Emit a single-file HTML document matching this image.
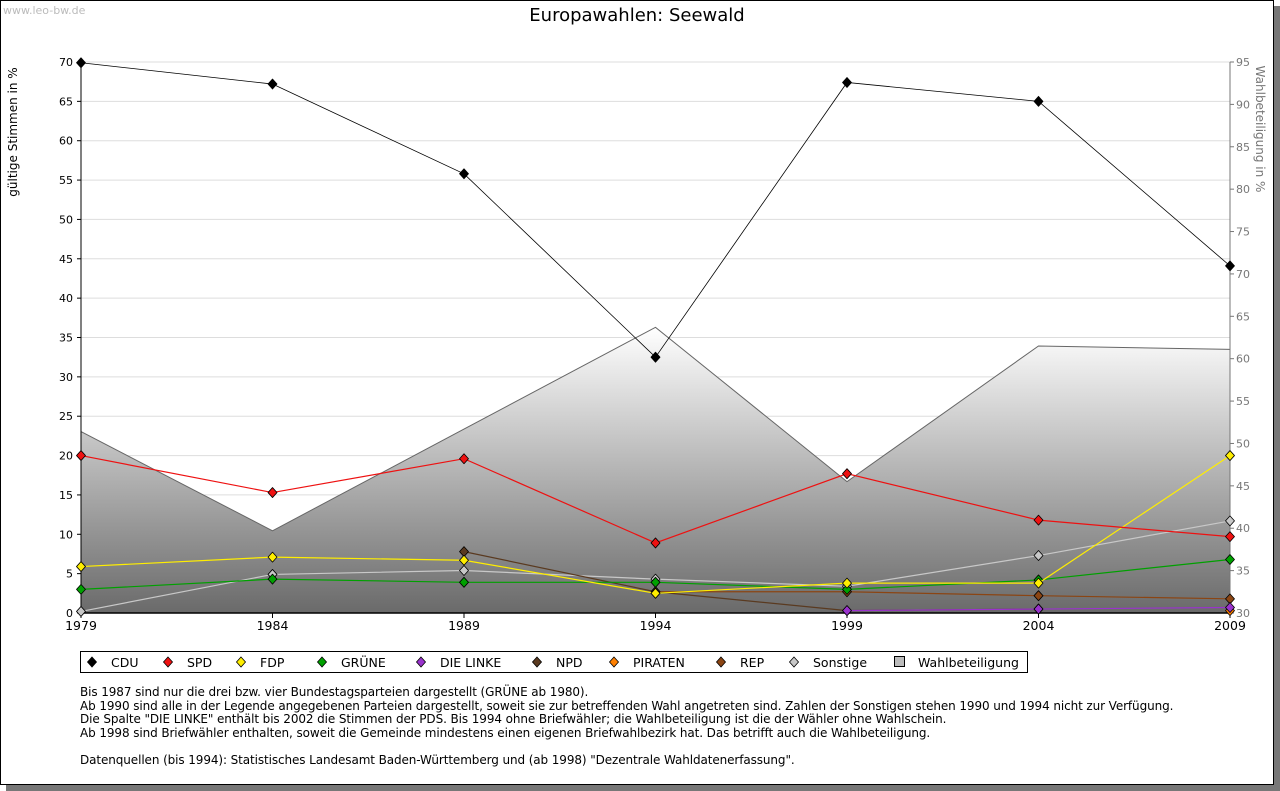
<!DOCTYPE html>
<html><head><meta charset="utf-8">
<style>
body{margin:0;background:#fff;font-family:"DejaVu Sans","Liberation Sans",sans-serif;}
#frame{position:absolute;left:0;top:0;width:1272px;height:783px;border:1px solid #000;background:#fff;box-shadow:6px 6px 0 #777;}
.note{position:absolute;left:80px;top:686px;font-size:12px;line-height:13.5px;color:#000;font-family:"DejaVu Sans",sans-serif;letter-spacing:-0.1px;}
svg text{font-family:"DejaVu Sans","Liberation Sans",sans-serif;}
</style></head><body>
<div id="frame"></div>
<svg id="chart" width="1280" height="791" style="position:absolute;left:0;top:0">
<defs><linearGradient id="wg" x1="0" y1="0" x2="0" y2="1"><stop offset="0" stop-color="#ffffff"/><stop offset="1" stop-color="#6a6a6a"/></linearGradient></defs>
<text x="3" y="14" font-size="11" fill="#bbb">www.leo-bw.de</text>
<text x="637" y="21" font-size="18" text-anchor="middle">Europawahlen: Seewald</text>
<g id="grid"></g><g id="area"></g><g id="axes"></g><g id="series"></g>
</svg>
<div class="note">Bis 1987 sind nur die drei bzw. vier Bundestagsparteien dargestellt (GRÜNE ab 1980).<br>Ab 1990 sind alle in der Legende angegebenen Parteien dargestellt, soweit sie zur betreffenden Wahl angetreten sind. Zahlen der Sonstigen stehen 1990 und 1994 nicht zur Verfügung.<br>Die Spalte "DIE LINKE" enthält bis 2002 die Stimmen der PDS. Bis 1994 ohne Briefwähler; die Wahlbeteiligung ist die der Wähler ohne Wahlschein.<br>Ab 1998 sind Briefwähler enthalten, soweit die Gemeinde mindestens einen eigenen Briefwahlbezirk hat. Das betrifft auch die Wahlbeteiligung.<br><br>Datenquellen (bis 1994): Statistisches Landesamt Baden-Württemberg und (ab 1998) "Dezentrale Wahldatenerfassung".</div>
<script>
const years=[1979,1984,1989,1994,1999,2004,2009];
const leftTicks=[0,5,10,15,20,25,30,35,40,45,50,55,60,65,70];
const rightTicks=[30,35,40,45,50,55,60,65,70,75,80,85,90,95];
const cdu=[69.9,67.2,55.8,32.5,67.4,65.0,44.1];
const spd=[20.0,15.3,19.6,8.9,17.7,11.8,9.7];
const fdp=[5.9,7.1,6.7,2.5,3.8,3.8,20.0];
const gruene=[3.0,4.3,3.9,3.9,3.0,4.2,6.8];
const linke=[null,null,null,null,0.3,0.5,0.7];
const npd=[null,null,7.8,2.7,0.3,0.5,null];
const piraten=[null,null,null,null,null,null,0.3];
const rep=[null,null,null,2.7,2.7,2.2,1.8];
const sonstige=[0.2,4.9,5.4,4.3,3.4,7.3,11.7];
const turnout=[51.4,39.7,51.7,63.7,45.5,61.5,61.1];
const NS="http://www.w3.org/2000/svg";
const X0=81,X1=1230,Y0=613,Y1=62;
const xs=y=>X0+(y-1979)/(2009-1979)*(X1-X0);
const ys=v=>Y0-v/70*(Y0-Y1);
const yr=v=>Y0-(v-30)/65*(Y0-Y1);
function mk(t,a,p){const e=document.createElementNS(NS,t);for(const k in a)e.setAttribute(k,a[k]);p.appendChild(e);return e;}
const grid=document.getElementById('grid'),axes=document.getElementById('axes'),area=document.getElementById('area'),ser=document.getElementById('series');
leftTicks.forEach(t=>{const g=mk('line',{x1:X0,x2:X1,y1:ys(t),y2:ys(t),stroke:'#ddd'},grid);


const l=mk('text',{x:X0-8,y:ys(t)+4,'font-size':11,'text-anchor':'end'},axes);l.textContent=t;


mk('line',{x1:X0-4,x2:X0,y1:ys(t),y2:ys(t),stroke:'#000'},axes);});
rightTicks.forEach(t=>{const l=mk('text',{x:X1+6,y:yr(t)+4,'font-size':11,fill:'#777'},axes);l.textContent=t;


mk('line',{x1:X1,x2:X1+4,y1:yr(t),y2:yr(t),stroke:'#777'},axes);});
years.forEach(y=>{const l=mk('text',{x:xs(y),y:Y0+17,'font-size':12.5,'text-anchor':'middle'},axes);l.textContent=y;


mk('line',{x1:xs(y),x2:xs(y),y1:Y0,y2:Y0+5,stroke:'#000'},axes);});
let pts=years.map((y,i)=>xs(y)+','+yr(turnout[i])).join(' ');
const ar=mk('polygon',{points:X0+','+Y0+' '+pts+' '+X1+','+Y0,fill:'url(#wg)',stroke:'#666'},area);


mk('line',{x1:X0,x2:X1,y1:Y0,y2:Y0,stroke:'#000','stroke-width':1.5},axes);
mk('line',{x1:X0,x2:X0,y1:Y1,y2:Y0,stroke:'#000'},axes);
mk('line',{x1:X1,x2:X1,y1:Y1,y2:Y0,stroke:'#777'},axes);
const yl=mk('text',{x:17,y:132,'font-size':12,'text-anchor':'middle',transform:'rotate(-90 17 132)'},axes);yl.textContent='gültige Stimmen in %';


const yl2=mk('text',{x:1256,y:129,'font-size':12,fill:'#777','text-anchor':'middle',transform:'rotate(90 1256 129)'},axes);yl2.textContent='Wahlbeteiligung in %';


const series=[['sonstige',sonstige,'#c8c8c8'],['rep',rep,'#8b4513'],['piraten',piraten,'#ff8000'],['npd',npd,'#5a3a20'],['linke',linke,'#9933cc'],['gruene',gruene,'#00a000'],['fdp',fdp,'#ffee00'],['spd',spd,'#ee1111'],['cdu',cdu,'#000000']];
function dia(x,y,c,name){const d=mk('polygon',{points:`${x},${y-5} ${x+4.5},${y} ${x},${y+5} ${x-4.5},${y}`,fill:c,stroke:'#000','stroke-width':0.8,'stroke-linejoin':'round'},ser);

}
series.forEach(([n,v,c])=>{let seg=[];v.forEach((val,i)=>{if(val!=null)seg.push(xs(years[i])+','+ys(val));});
if(seg.length>1){const p=mk('polyline',{points:seg.join(' '),fill:'none',stroke:c,'stroke-width':n=='cdu'?0.8:1.2},ser);

}
v.forEach((val,i)=>{if(val!=null)dia(xs(years[i]),ys(val),c,n);});});
const lg=mk('g',{},document.getElementById('chart'));


mk('rect',{x:80.5,y:651.5,width:947,height:21,fill:'#fff',stroke:'#000'},lg);
const items=[['CDU','#000',92],['SPD','#ee1111',168],['FDP','#ffee00',241],['GRÜNE','#00a000',322],['DIE LINKE','#9933cc',421],['NPD','#5a3a20',537],['PIRATEN','#ff8000',614],['REP','#8b4513',721],['Sonstige','#c8c8c8',794]];
items.forEach(([t,c,x])=>{const d=mk('polygon',{points:`${x},${657} ${x+4.5},${662} ${x},${667} ${x-4.5},${662}`,fill:c,stroke:'#000','stroke-width':0.8},lg);


const tx=mk('text',{x:x+19,y:667,'font-size':12.5},lg);tx.textContent=t;

});
mk('rect',{x:894.5,y:656.5,width:10,height:10,fill:'#bbb',stroke:'#000'},lg);
const wt=mk('text',{x:918,y:667,'font-size':12.5},lg);wt.textContent='Wahlbeteiligung';


</script>
</body></html>
